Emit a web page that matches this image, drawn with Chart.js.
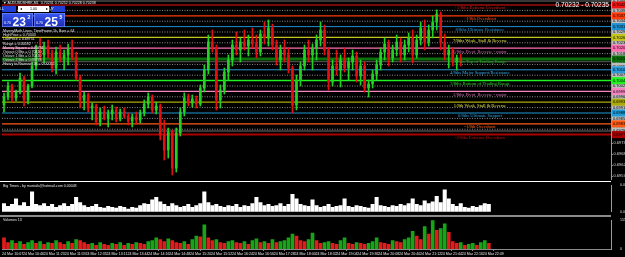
<!DOCTYPE html>
<html lang="en">
<head>
<meta charset="UTF-8">
<title>AUDUSD M1 - Murrey Math</title>
<script src="https://cdn.jsdelivr.net/npm/chart.js@4.4.1/dist/chart.umd.min.js"></script>
<style>
  html, body { margin: 0; padding: 0; background: #000; }
  body { width: 625px; height: 257px; position: relative; overflow: hidden; }
  canvas { position: absolute; left: 0; }
  #main { top: 0; }
  #bigTimes { top: 182px; }
  #volume { top: 217px; }
  .sep { position: absolute; left: 0; width: 611px; }
  #sep1 { top: 181px; height: 1px; background: #fff; }
  #sep2 { top: 215px; height: 2px; background: #8a8a8a; }
</style>
</head>
<body>
<canvas id="main" width="625" height="181"></canvas>
<div class="sep" id="sep1"></div>
<canvas id="bigTimes" width="625" height="33"></canvas>
<div class="sep" id="sep2"></div>
<canvas id="volume" width="625" height="40"></canvas>
<script>
// ---- candles (M1) ----
var opens = [
  0.69925, 0.69965, 0.70020, 0.69960, 0.69990, 0.70060, 0.69950, 0.70020, 0.70120, 0.70200,
  0.70175, 0.70220, 0.70180, 0.70110, 0.70190, 0.70160, 0.70175, 0.70205, 0.70165, 0.70060,
  0.69950, 0.69975, 0.69910, 0.69920, 0.69840, 0.69890, 0.69860, 0.69880, 0.69900, 0.69855,
  0.69890, 0.69870, 0.69845, 0.69865, 0.69850, 0.69885, 0.69930, 0.69965, 0.69900, 0.69920,
  0.69775, 0.69700, 0.69790, 0.69610, 0.69785, 0.69890, 0.69960, 0.69935, 0.69955, 0.69930,
  0.70010, 0.70100, 0.70240, 0.70210, 0.69950, 0.70000, 0.70090, 0.70150, 0.70225, 0.70200,
  0.70240, 0.70220, 0.70250, 0.70230, 0.70190, 0.70280, 0.70260, 0.70310, 0.70225, 0.70150,
  0.70200, 0.70175, 0.70110, 0.69925, 0.70050, 0.70120, 0.70200, 0.70175, 0.70210, 0.70250,
  0.70300, 0.70200, 0.70040, 0.70120, 0.70100, 0.70150, 0.70110, 0.70140, 0.70170, 0.70070,
  0.70120, 0.70010, 0.70030, 0.70080, 0.70125, 0.70190, 0.70230, 0.70160, 0.70200, 0.70240,
  0.70175, 0.70225, 0.70260, 0.70175, 0.70250, 0.70310, 0.70240, 0.70300, 0.70340, 0.70380,
  0.70240, 0.70175, 0.70200, 0.70140, 0.70160
];
var highs = [
  0.69985, 0.70040, 0.70030, 0.70000, 0.70085, 0.70070, 0.70030, 0.70140, 0.70225, 0.70260,
  0.70240, 0.70250, 0.70200, 0.70215, 0.70225, 0.70200, 0.70230, 0.70250, 0.70190, 0.70075,
  0.69990, 0.69985, 0.69935, 0.69930, 0.69910, 0.69920, 0.69900, 0.69925, 0.69915, 0.69905,
  0.69910, 0.69885, 0.69880, 0.69890, 0.69900, 0.69950, 0.69985, 0.69975, 0.69940, 0.69930,
  0.69850, 0.69810, 0.69800, 0.69810, 0.69910, 0.69985, 0.69980, 0.69975, 0.69970, 0.70025,
  0.70125, 0.70275, 0.70300, 0.70225, 0.70025, 0.70110, 0.70175, 0.70250, 0.70290, 0.70260,
  0.70300, 0.70275, 0.70310, 0.70275, 0.70300, 0.70340, 0.70350, 0.70330, 0.70250, 0.70225,
  0.70250, 0.70210, 0.70120, 0.70075, 0.70140, 0.70225, 0.70250, 0.70230, 0.70275, 0.70340,
  0.70325, 0.70210, 0.70150, 0.70200, 0.70175, 0.70210, 0.70160, 0.70200, 0.70190, 0.70150,
  0.70140, 0.70050, 0.70100, 0.70150, 0.70210, 0.70260, 0.70250, 0.70225, 0.70275, 0.70260,
  0.70250, 0.70285, 0.70300, 0.70275, 0.70340, 0.70350, 0.70325, 0.70370, 0.70400, 0.70390,
  0.70280, 0.70225, 0.70210, 0.70175, 0.70180
];
var lows = [
  0.69890, 0.69950, 0.69940, 0.69945, 0.69980, 0.69920, 0.69930, 0.70010, 0.70100, 0.70150,
  0.70135, 0.70160, 0.70090, 0.70080, 0.70140, 0.70100, 0.70125, 0.70150, 0.70050, 0.69910,
  0.69900, 0.69890, 0.69850, 0.69825, 0.69820, 0.69850, 0.69815, 0.69850, 0.69840, 0.69845,
  0.69860, 0.69825, 0.69815, 0.69830, 0.69835, 0.69870, 0.69910, 0.69885, 0.69880, 0.69750,
  0.69650, 0.69660, 0.69575, 0.69590, 0.69770, 0.69870, 0.69920, 0.69915, 0.69910, 0.69920,
  0.69990, 0.70080, 0.70190, 0.69900, 0.69910, 0.69980, 0.70050, 0.70120, 0.70175, 0.70140,
  0.70200, 0.70170, 0.70210, 0.70160, 0.70170, 0.70230, 0.70220, 0.70200, 0.70125, 0.70100,
  0.70140, 0.70085, 0.69885, 0.69900, 0.70020, 0.70100, 0.70140, 0.70100, 0.70150, 0.70220,
  0.70175, 0.70000, 0.70020, 0.70075, 0.70015, 0.70090, 0.70050, 0.70100, 0.70040, 0.70025,
  0.69990, 0.69965, 0.70010, 0.70050, 0.70100, 0.70150, 0.70120, 0.70140, 0.70170, 0.70140,
  0.70150, 0.70190, 0.70135, 0.70160, 0.70225, 0.70200, 0.70220, 0.70260, 0.70300, 0.70200,
  0.70150, 0.70110, 0.70120, 0.70100, 0.70120
];
var closes = [
  0.69965, 0.70020, 0.69960, 0.69990, 0.70060, 0.69950, 0.70020, 0.70120, 0.70200, 0.70175,
  0.70220, 0.70180, 0.70110, 0.70190, 0.70160, 0.70175, 0.70205, 0.70165, 0.70060, 0.69950,
  0.69975, 0.69910, 0.69920, 0.69840, 0.69890, 0.69860, 0.69880, 0.69900, 0.69855, 0.69890,
  0.69870, 0.69845, 0.69865, 0.69850, 0.69885, 0.69930, 0.69965, 0.69900, 0.69920, 0.69775,
  0.69700, 0.69790, 0.69610, 0.69785, 0.69890, 0.69960, 0.69935, 0.69955, 0.69930, 0.70010,
  0.70100, 0.70240, 0.70210, 0.69950, 0.70000, 0.70090, 0.70150, 0.70225, 0.70200, 0.70240,
  0.70220, 0.70250, 0.70230, 0.70190, 0.70280, 0.70260, 0.70310, 0.70225, 0.70150, 0.70200,
  0.70175, 0.70110, 0.69925, 0.70050, 0.70120, 0.70200, 0.70175, 0.70210, 0.70250, 0.70300,
  0.70200, 0.70040, 0.70120, 0.70100, 0.70150, 0.70110, 0.70140, 0.70170, 0.70070, 0.70120,
  0.70010, 0.70030, 0.70080, 0.70125, 0.70190, 0.70230, 0.70160, 0.70200, 0.70240, 0.70175,
  0.70225, 0.70260, 0.70175, 0.70250, 0.70310, 0.70240, 0.70300, 0.70340, 0.70380, 0.70240,
  0.70175, 0.70200, 0.70140, 0.70160, 0.70150
];

// ---- Murrey Math levels ----
var levelPrices = [0.70425, 0.70371, 0.70317, 0.70263, 0.70209, 0.70155, 0.70101,
                   0.70047, 0.69993, 0.69939, 0.69885, 0.69831, 0.69777];
var levelNames = ['+2/8ths Extreme Overshoot', '+1/8th Overshoot', '8/8ths Ultimate Resistance',
  '7/8ths Weak, Stall & Reverse', '6/8ths Pivot, Reverse - major', '5/8ths Top of Trading Range',
  '4/8ths Major Support/Resistance', '3/8ths Bottom of Trading Range', '2/8ths Pivot, Reverse - major',
  '1/8th Weak, Stall & Reverse', '0/8ths Ultimate Support', '-1/8th Overshoot', '-2/8ths Extreme Overshoot'];
var midPrices = [0.70398, 0.70344, 0.70290, 0.70236, 0.70182, 0.70128, 0.70074,
                 0.70020, 0.69966, 0.69912, 0.69858, 0.69804];
var greyPrices = [0.70445, 0.70142, 0.69795];
var priceTicks = [0.69735, 0.69680, 0.69625, 0.69570];

var levelColors = ['#ec1414', '#ff3c0a', '#1e8fd0', '#c4c41e', '#ff6eb0', '#0b700b', '#2a9ad8',
                   '#22f022', '#f585c0', '#aaaa08', '#1f9ad6', '#ff5a14', '#a80000'];
var levelText = ['#d82020', '#ff5020', '#2a9ae0', '#e6e650', '#c860a8', '#1eb41e', '#3aa8e8',
                 '#30d830', '#d070b0', '#e0e040', '#2aa0e0', '#ff6020', '#c01010'];
var levelWidths = [1, 1.3, 1, 1.2, 1.2, 3, 1, 1.5, 1.2, 1.2, 1, 1.3, 2];

// ---- indicator windows ----
var bigTimes = [
  0.00029, 0.00019, 0.00026, 0.00045, 0.00022, 0.00032, 0.00019, 0.00070, 0.00026, 0.00022,
  0.00029, 0.00019, 0.00026, 0.00016, 0.00022, 0.00029, 0.00019, 0.00026, 0.00051, 0.00032,
  0.00022, 0.00016, 0.00019, 0.00026, 0.00016, 0.00013, 0.00019, 0.00016, 0.00013, 0.00019,
  0.00016, 0.00010, 0.00016, 0.00013, 0.00022, 0.00029, 0.00026, 0.00042, 0.00051, 0.00035,
  0.00026, 0.00019, 0.00029, 0.00022, 0.00016, 0.00019, 0.00026, 0.00016, 0.00022, 0.00029,
  0.00070, 0.00032, 0.00022, 0.00026, 0.00019, 0.00016, 0.00022, 0.00019, 0.00026, 0.00016,
  0.00022, 0.00019, 0.00029, 0.00051, 0.00032, 0.00022, 0.00026, 0.00019, 0.00022, 0.00029,
  0.00019, 0.00026, 0.00061, 0.00045, 0.00026, 0.00022, 0.00019, 0.00042, 0.00022, 0.00016,
  0.00019, 0.00026, 0.00016, 0.00019, 0.00022, 0.00045, 0.00019, 0.00016, 0.00022, 0.00019,
  0.00016, 0.00013, 0.00026, 0.00051, 0.00022, 0.00019, 0.00016, 0.00022, 0.00019, 0.00026,
  0.00022, 0.00029, 0.00045, 0.00026, 0.00022, 0.00038, 0.00029, 0.00035, 0.00054, 0.00032,
  0.00077, 0.00045, 0.00026, 0.00019, 0.00029, 0.00016, 0.00013, 0.00019, 0.00016, 0.00022,
  0.00029, 0.00026
];
var volumes = [
  60, 35, 45, 30, 40, 25, 35, 45, 30, 40,
  25, 35, 30, 45, 35, 25, 40, 30, 50, 45,
  35, 25, 30, 20, 35, 25, 20, 30, 25, 35,
  20, 30, 25, 35, 30, 25, 40, 45, 60, 50,
  40, 55, 45, 35, 30, 40, 25, 50, 70, 65,
  130, 60, 45, 50, 35, 30, 40, 45, 35, 30,
  40, 25, 45, 55, 35, 40, 30, 50, 35, 40,
  45, 60, 80, 70, 45, 40, 50, 85, 45, 30,
  35, 40, 30, 25, 45, 60, 30, 25, 35, 30,
  25, 30, 40, 60, 35, 30, 25, 45, 40, 35,
  50, 60, 95, 70, 50, 120, 80, 155, 100, 110,
  135, 90, 40, 30, 35, 20, 25, 30, 20, 35,
  45, 30
];
var timeLabels = ['24 Mar 10:07', '24 Mar 10:46', '24 Mar 11:23', '24 Mar 11:59', '24 Mar 12:35',
  '24 Mar 13:11', '24 Mar 13:44', '24 Mar 14:16', '24 Mar 14:48', '24 Mar 15:20', '24 Mar 15:52',
  '24 Mar 16:24', '24 Mar 16:56', '24 Mar 17:28', '24 Mar 18:00', '24 Mar 18:32', '24 Mar 19:04',
  '24 Mar 19:36', '24 Mar 20:08', '24 Mar 20:40', '24 Mar 21:12', '24 Mar 21:44', '24 Mar 22:16',
  '24 Mar 22:49'];

var infoLines = ['MurreyMath Lines  TimeFrame 1h, Bars = 64', 'HighPrice = 0.70343', 'LowPrice = 0.69751',
  'Range = 0.00592', 'Murrey Square = 0.00781', 'Octave 0 Bits = 0.70410', 'Octave 1 Bits = 0.70410',
  'Octave 2 Bits = 0.69778', 'Heavy to Reverse Off = 0.00052'];

Chart.defaults.font.family = '"Liberation Sans", Arial, sans-serif';
Chart.defaults.animation = false;

var SLOTS = 152;      // visible bar slots across the window
var bull = '#22d222', bear = '#e41010';
var candleColors = closes.map(function (c, i) { return c >= opens[i] ? bull : bear; });

// ---- drawings on top of the main window ----
function drawTradePanel(ctx) {
  ctx.save();
  ctx.fillStyle = '#1f3fd6';
  ctx.fillRect(2, 6, 14, 6);
  ctx.fillRect(51, 6, 14, 6);
  ctx.fillStyle = '#ffffff';
  ctx.fillRect(18, 6, 31, 6);
  var g = ctx.createLinearGradient(0, 13, 0, 27);
  g.addColorStop(0, '#3a58f2');
  g.addColorStop(1, '#1a2cb4');
  ctx.fillStyle = g;
  ctx.fillRect(2, 13, 31, 14);
  ctx.fillRect(34, 13, 31, 14);
  ctx.strokeStyle = '#7f95ff';
  ctx.lineWidth = 0.6;
  ctx.strokeRect(2.3, 13.3, 30.4, 13.4);
  ctx.strokeRect(34.3, 13.3, 30.4, 13.4);

  ctx.textBaseline = 'middle';
  ctx.font = '3.6px "Liberation Sans"';
  ctx.fillStyle = '#fff';
  ctx.fillText('SELL', 4, 9);
  ctx.fillText('BUY', 54, 9);
  ctx.fillStyle = '#000';
  ctx.textAlign = 'center';
  ctx.fillText('1.00', 33.5, 9);
  ctx.fillText('\u25C2', 20.5, 9);
  ctx.fillText('\u25B8', 46.5, 9);

  ctx.textAlign = 'left';
  ctx.fillStyle = '#fff';
  ctx.fillText('0.70', 4, 23);
  ctx.fillText('0.70', 36, 23);
  ctx.textBaseline = 'alphabetic';
  ctx.font = 'bold 12px "Liberation Sans"';
  ctx.fillText('23', 12.5, 25.5);
  ctx.fillText('25', 44.5, 25.5);
  ctx.font = 'bold 5px "Liberation Sans"';
  ctx.fillText('2', 27.5, 18.5);
  ctx.fillText('5', 59.5, 18.5);
  ctx.restore();
}

var mainOverlay = {
  id: 'mainOverlay',
  afterDraw: function (chart) {
    var ctx = chart.ctx, y = chart.scales.y, area = chart.chartArea;
    ctx.save();

    // captions of the levels
    ctx.font = '4.6px "Liberation Serif"';
    ctx.textAlign = 'center';
    ctx.textBaseline = 'top';
    levelPrices.forEach(function (p, i) {
      ctx.fillStyle = levelText[i];
      ctx.fillText(levelNames[i], 480, y.getPixelForValue(p) + 0.8);
    });

    // price scale with the line labels
    ctx.fillStyle = '#000';
    ctx.fillRect(area.right, 0, 625 - area.right, chart.height);
    ctx.font = '4px "Liberation Sans"';
    ctx.textAlign = 'left';
    ctx.textBaseline = 'middle';
    var boxes = [];
    midPrices.concat(greyPrices).forEach(function (p) { boxes.push([p, '#bdbdbd']); });
    levelPrices.forEach(function (p, i) { boxes.push([p, levelColors[i]]); });
    boxes.forEach(function (b) {
      var py = y.getPixelForValue(b[0]);
      ctx.fillStyle = b[1];
      ctx.fillRect(area.right + 1, py - 3.5, 14, 7);
      ctx.fillStyle = '#000';
      ctx.fillText(b[0].toFixed(5), area.right + 2, py);
    });
    priceTicks.forEach(function (p) {
      var py = y.getPixelForValue(p);
      ctx.fillStyle = '#ddd';
      ctx.fillRect(area.right, py, 2, 0.6);
      ctx.fillText(p.toFixed(5), area.right + 2.5, py);
    });
    ctx.fillStyle = '#9a9a9a';
    ctx.fillRect(area.right, 0, 1, area.bottom);

    // chart title, info block, quote
    ctx.fillStyle = '#e8e8e8';
    ctx.textBaseline = 'top';
    ctx.font = '3.6px "Liberation Sans"';
    ctx.fillText('\u25BC AUDUSDSHRK,M1  0.70231 0.70252 0.70228 0.70238', 3, 1.2);
    infoLines.forEach(function (t, i) {
      ctx.fillText(t, 3, 29.5 + i * 4.1);
    });
    ctx.textAlign = 'right';
    ctx.font = '6.6px "Liberation Sans"';
    ctx.fillStyle = '#fff';
    ctx.fillText('0.70232 - 0.70235', 609, 2.3);

    drawTradePanel(ctx);
    ctx.restore();
  }
};

function paneTitle(text, top) {
  return {
    id: 'paneTitle',
    afterDraw: function (chart) {
      var ctx = chart.ctx;
      ctx.save();
      ctx.font = '3.6px "Liberation Sans"';
      ctx.fillStyle = '#e6e6e6';
      ctx.textBaseline = 'top';
      ctx.fillText(text, 3, top);
      ctx.restore();
    }
  };
}

// ---- main window ----
var lineSets = [];
greyPrices.forEach(function (p) {
  lineSets.push({ type: 'line', data: [{ x: -0.5, y: p }, { x: SLOTS - 0.5, y: p }],
    borderColor: '#4a4a4a', borderWidth: 1.4, pointRadius: 0, order: 12 });
});
midPrices.forEach(function (p) {
  lineSets.push({ type: 'line', data: [{ x: -0.5, y: p }, { x: SLOTS - 0.5, y: p }],
    borderColor: '#8c8c8c', borderWidth: 1, borderDash: [1, 1.5], pointRadius: 0, order: 11 });
});
levelPrices.forEach(function (p, i) {
  lineSets.push({ type: 'line', data: [{ x: -0.5, y: p }, { x: SLOTS - 0.5, y: p }],
    borderColor: levelColors[i], borderWidth: levelWidths[i], pointRadius: 0, order: 10 });
});

new Chart(document.getElementById('main'), {
  type: 'bar',
  data: {
    datasets: lineSets.concat([
      {
        type: 'bar',
        data: lows.map(function (l, i) { return { x: i, y: [l, highs[i]] }; }),
        backgroundColor: candleColors, barThickness: 1, grouped: false, minBarLength: 1, order: 2
      },
      {
        type: 'bar',
        data: opens.map(function (o, i) { return { x: i, y: [o, closes[i]] }; }),
        backgroundColor: candleColors, barThickness: 2, grouped: false, minBarLength: 1, order: 1
      }
    ])
  },
  options: {
    responsive: false,
    layout: { padding: { left: 2, right: 14, top: 0, bottom: 1 } },
    plugins: { legend: { display: false }, tooltip: { enabled: false } },
    scales: {
      x: { type: 'linear', min: -0.5, max: SLOTS - 0.5, offset: false, display: false },
      y: { type: 'linear', min: 0.6955, max: 0.7045, beginAtZero: false, display: false }
    }
  },
  plugins: [mainOverlay]
});

// ---- Big Times window ----
new Chart(document.getElementById('bigTimes'), {
  type: 'bar',
  data: {
    datasets: [{
      data: bigTimes.map(function (v, i) { return { x: i, y: v }; }),
      backgroundColor: '#ffffff', barThickness: 3.4
    }]
  },
  options: {
    responsive: false,
    layout: { padding: { left: 2, right: 0, top: 2, bottom: 2 } },
    plugins: { legend: { display: false }, tooltip: { enabled: false } },
    scales: {
      x: { type: 'linear', min: -0.5, max: SLOTS - 0.5, offset: false, display: false },
      y: {
        position: 'right', min: 0, max: 0.00093,
        afterFit: function (s) { s.width = 14; },
        afterBuildTicks: function (s) { s.ticks = [{ value: 0.00001 }, { value: 0.00093 }]; },
        grid: { display: false },
        border: { color: '#9a9a9a' },
        ticks: { color: '#ddd', padding: 1, font: { size: 3.6 },
          callback: function (v) { return v.toFixed(5); } }
      }
    }
  },
  plugins: [paneTitle('Big Times - by mustafa@hotmail.com 0.00043', 2.5)]
});

// ---- Volumes window ----
var volColors = volumes.map(function (v, i) { return i > 0 && v > volumes[i - 1] ? '#16a516' : '#e21c1c'; });
new Chart(document.getElementById('volume'), {
  type: 'bar',
  data: {
    datasets: [{
      data: volumes.map(function (v, i) { return { x: i, y: v }; }),
      backgroundColor: volColors, barThickness: 3
    }]
  },
  options: {
    responsive: false,
    layout: { padding: { left: 2, right: 0, top: 2, bottom: 0 } },
    plugins: { legend: { display: false }, tooltip: { enabled: false } },
    scales: {
      x: {
        type: 'linear', min: -0.5, max: SLOTS - 0.5, offset: false,
        afterFit: function (s) { s.height = 8; },
        afterBuildTicks: function (s) {
          s.ticks = timeLabels.map(function (t, k) { return { value: -0.5 + k * 5.216 }; });
        },
        grid: { drawOnChartArea: false, color: '#8a8a8a', tickLength: 2 },
        border: { color: '#8a8a8a' },
        ticks: { color: '#e6e6e6', align: 'start', maxRotation: 0, autoSkip: false, padding: 0.5,
          font: { size: 3.6 },
          callback: function (v, k) { return timeLabels[k]; } }
      },
      y: {
        position: 'right', min: 0, max: 155,
        afterFit: function (s) { s.width = 14; },
        afterBuildTicks: function (s) { s.ticks = [{ value: 0 }, { value: 155 }]; },
        grid: { display: false },
        border: { color: '#9a9a9a' },
        ticks: { color: '#ddd', padding: 1, font: { size: 3.6 } }
      }
    }
  },
  plugins: [paneTitle('Volumes 13', 0.8)]
});
</script>
</body>
</html>
